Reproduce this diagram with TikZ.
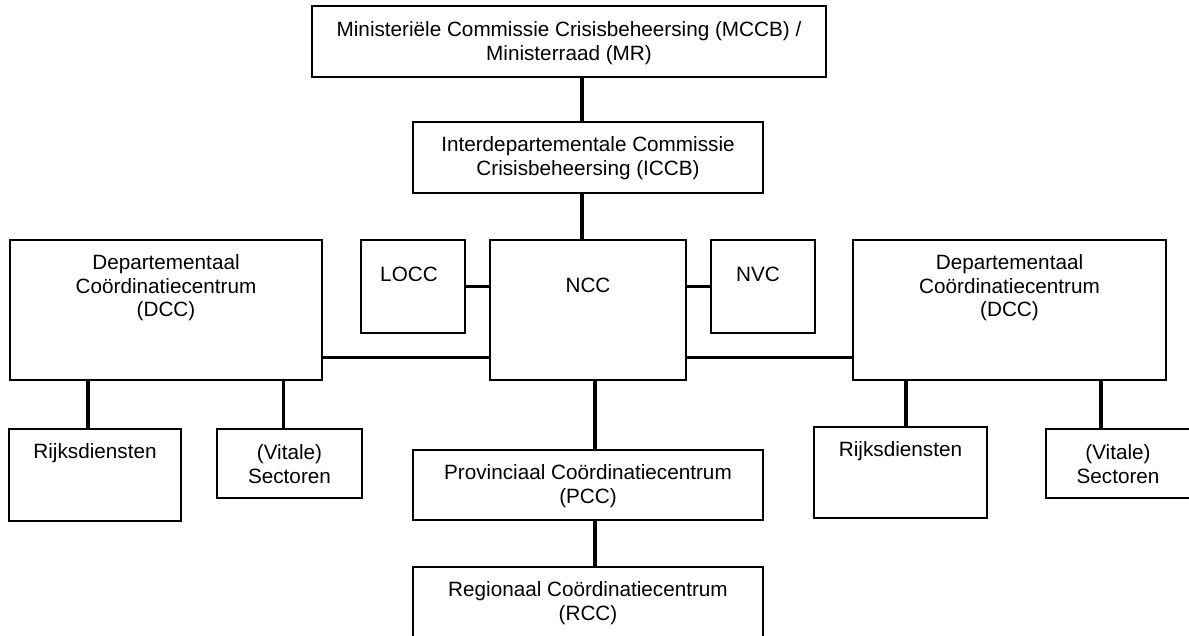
\documentclass[tikz,border=0pt]{standalone}
\usepackage{fontspec}
\setmainfont{Liberation Sans}
\tikzset{
  unit/.style={draw, line width=1.3pt, inner sep=0pt},
  link/.style={line width=3.5pt},
  txt/.style={align=center, anchor=base, inner sep=0pt, font=\fontsize{20.7}{23.8}\selectfont},
}

\begin{document}
\begin{tikzpicture}[x=1pt,y=-1pt]
  \useasboundingbox (0,0) rectangle (1189,635);
  % boxes
  \node[unit, minimum width=514pt, minimum height=71pt] (mccb) at (569,41.5) {};
  \node[unit, minimum width=350pt, minimum height=71pt] (iccb) at (588,157.5) {};
  \node[unit, minimum width=312pt, minimum height=140pt] (dccl) at (166,310) {};
  \node[unit, minimum width=104pt, minimum height=93pt] (locc) at (413,286.5) {};
  \node[unit, minimum width=196pt, minimum height=140pt] (ncc) at (588,310) {};
  \node[unit, minimum width=104pt, minimum height=93pt] (nvc) at (763,286.5) {};
  \node[unit, minimum width=313pt, minimum height=140pt] (dccr) at (1009.5,310) {};
  \node[unit, minimum width=172pt, minimum height=92pt] (rijksl) at (95,475) {};
  \node[unit, minimum width=145pt, minimum height=69pt] (vitalel) at (289.5,463.5) {};
  \node[unit, minimum width=350pt, minimum height=70pt] (pcc) at (588,485) {};
  \node[unit, minimum width=350pt, minimum height=78pt] (rcc) at (588,606) {};
  \node[unit, minimum width=173pt, minimum height=91pt] (rijksr) at (900.5,472.5) {};
  \node[unit, minimum width=144pt, minimum height=69pt] (vitaler) at (1118,463.5) {};

  % labels (base = last line)
  \node[txt] (mccb-t) at ([yshift=-54.8pt]mccb.north) {Ministeriële Commissie Crisisbeheersing (MCCB) /\\Ministerraad (MR)};
  \node[txt] (iccb-t) at ([yshift=-53.8pt]iccb.north) {Interdepartementale Commissie\\Crisisbeheersing (ICCB)};
  \node[txt] (dccl-t) at ([yshift=-77.6pt]dccl.north) {Departementaal\\Coördinatiecentrum\\(DCC)};
  \node[txt] (locc-t) at ([yshift=-42pt,xshift=-4pt]locc.north) {LOCC};
  \node[txt] (ncc-t) at ([yshift=-53pt]ncc.north) {NCC};
  \node[txt] (nvc-t) at ([yshift=-42pt,xshift=-5pt]nvc.north) {NVC};
  \node[txt] (dccr-t) at ([yshift=-77.6pt]dccr.north) {Departementaal\\Coördinatiecentrum\\(DCC)};
  \node[txt] (rijksl-t) at ([yshift=-30pt]rijksl.north) {Rijksdiensten};
  \node[txt] (vitalel-t) at ([yshift=-54.8pt]vitalel.north) {(Vitale)\\Sectoren};
  \node[txt] (pcc-t) at ([yshift=-53.8pt]pcc.north) {Provinciaal Coördinatiecentrum\\(PCC)};
  \node[txt] (rcc-t) at ([yshift=-53.8pt]rcc.north) {Regionaal Coördinatiecentrum\\(RCC)};
  \node[txt] (rijksr-t) at ([yshift=-30pt]rijksr.north) {Rijksdiensten};
  \node[txt] (vitaler-t) at ([yshift=-54.8pt]vitaler.north) {(Vitale)\\Sectoren};

  % connectors
  \draw[link] ([xshift=-6pt]iccb.north) -- ([xshift=-6pt]iccb.north |- mccb.south);
  \draw[link] ([xshift=-6pt]ncc.north) -- ([xshift=-6pt]ncc.north |- iccb.south);
  \draw[link] (locc.east) -- (locc.east -| ncc.west);
  \draw[link] (nvc.west) -- (nvc.west -| ncc.east);
  \draw[link] ([yshift=23pt]ncc.south west) -- ([yshift=23pt]ncc.south west -| dccl.east);
  \draw[link] ([yshift=23pt]ncc.south east) -- ([yshift=23pt]ncc.south east -| dccr.west);
  \draw[link] ([xshift=7pt]ncc.south) -- ([xshift=7pt]pcc.north);
  \draw[link] ([xshift=7pt]pcc.south) -- ([xshift=7pt]rcc.north);
  \draw[link] ([xshift=-7pt]rijksl.north) -- ([xshift=-7pt]rijksl.north |- dccl.south);
  \draw[link] ([xshift=-6pt]vitalel.north) -- ([xshift=-6pt]vitalel.north |- dccl.south);
  \draw[link] ([xshift=5.5pt]rijksr.north) -- ([xshift=5.5pt]rijksr.north |- dccr.south);
  \draw[link] ([xshift=-17pt]vitaler.north) -- ([xshift=-17pt]vitaler.north |- dccr.south);
\end{tikzpicture}
\end{document}
